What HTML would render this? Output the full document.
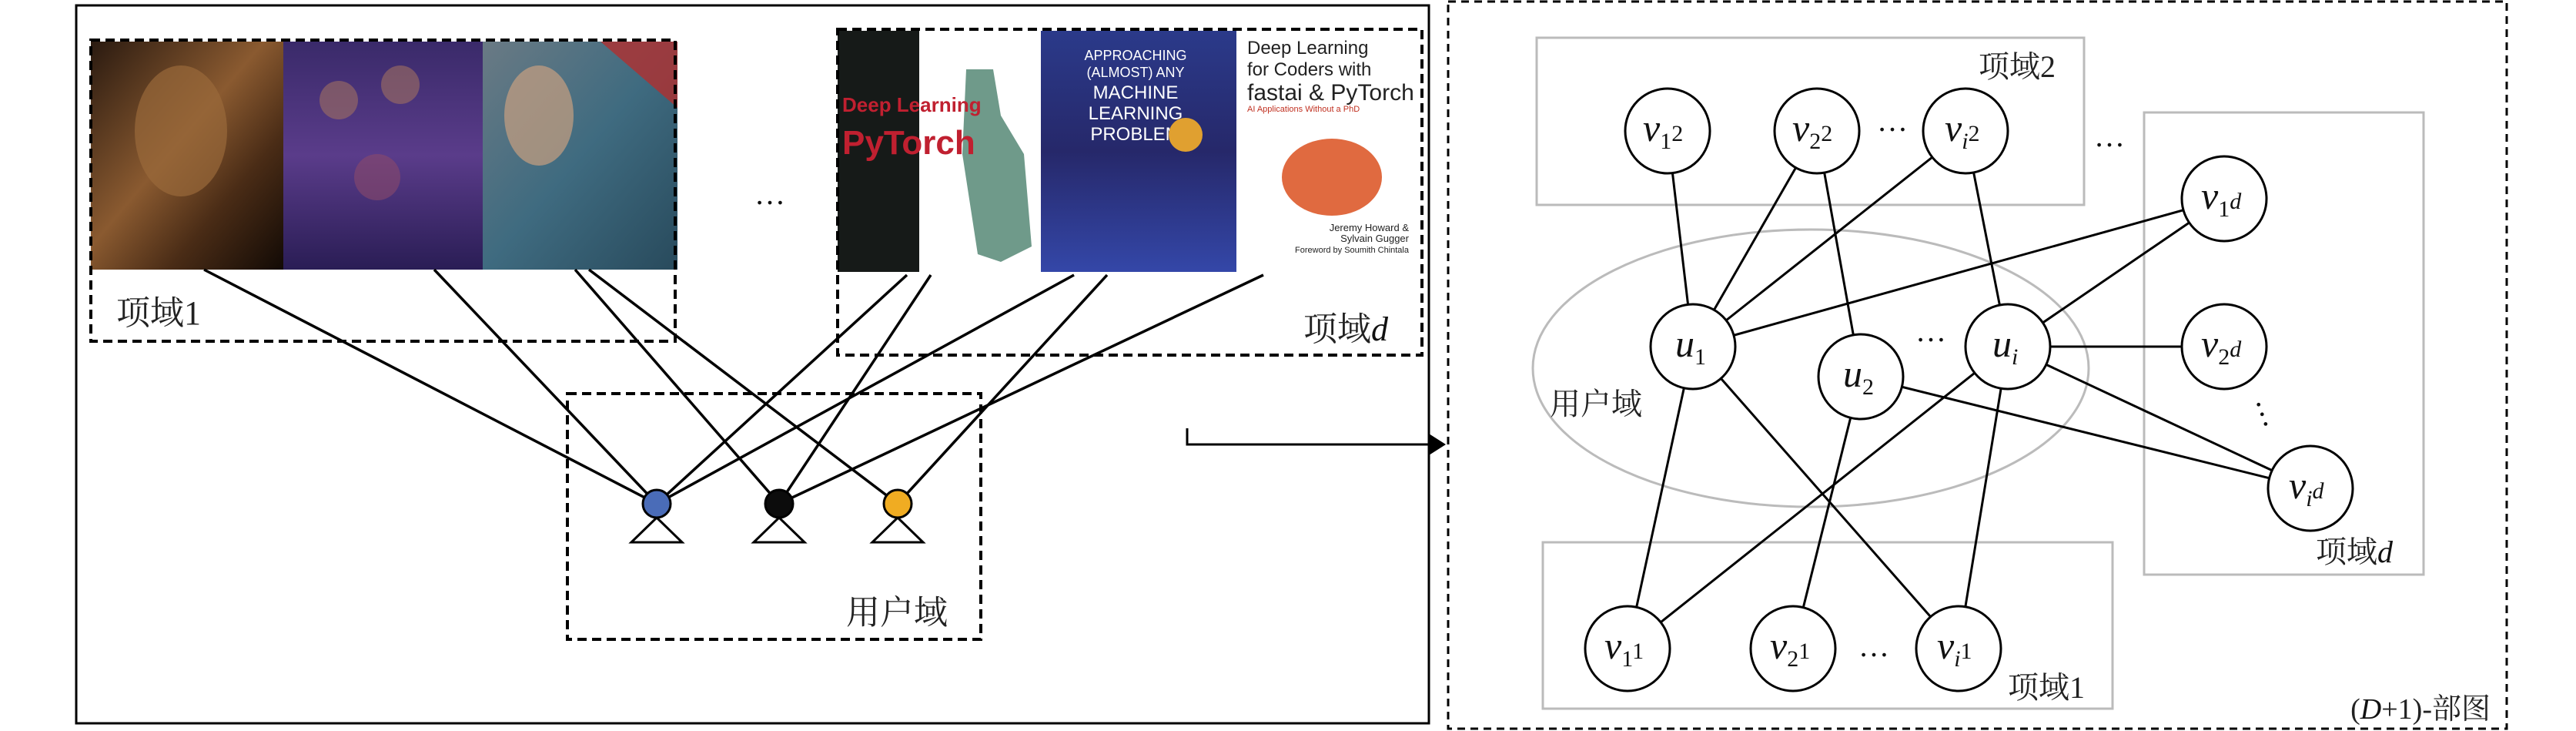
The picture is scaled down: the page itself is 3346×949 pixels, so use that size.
<!DOCTYPE html>
<html><head><meta charset="utf-8"><style>
html,body{margin:0;padding:0;background:#fff}
svg{display:block}
.cn{font-family:"Liberation Serif","Noto Serif CJK SC","Noto Sans CJK SC",serif;fill:#222}
.m{font-family:"Liberation Serif",serif;font-style:italic;fill:#111}
.s{font-family:"Liberation Serif",serif;font-style:normal;fill:#111}
</style></head><body>
<svg width="3346" height="949" viewBox="0 0 3346 949" xmlns="http://www.w3.org/2000/svg">
<defs>
<linearGradient id="p1" x1="0" y1="0" x2="1" y2="1"><stop offset="0" stop-color="#2a1a10"/><stop offset=".45" stop-color="#8a5a30"/><stop offset=".7" stop-color="#4a2c16"/><stop offset="1" stop-color="#120a05"/></linearGradient>
<linearGradient id="p2" x1="0" y1="0" x2="0" y2="1"><stop offset="0" stop-color="#3a2a6a"/><stop offset=".5" stop-color="#5a3c8a"/><stop offset="1" stop-color="#2a1d55"/></linearGradient>
<linearGradient id="p3" x1="0" y1="0" x2="1" y2="1"><stop offset="0" stop-color="#6a7a84"/><stop offset=".5" stop-color="#3f6b80"/><stop offset="1" stop-color="#284a5c"/></linearGradient>
<linearGradient id="b2" x1="0" y1="0" x2="0" y2="1"><stop offset="0" stop-color="#2b3a8a"/><stop offset=".5" stop-color="#26286a"/><stop offset="1" stop-color="#3447a8"/></linearGradient>
</defs>

<rect x="99" y="7" width="1757" height="932" fill="none" stroke="#000" stroke-width="3"/>

<rect x="118" y="54" width="250" height="296" fill="url(#p1)"/>
<ellipse cx="235" cy="170" rx="60" ry="85" fill="#9a6a3a" opacity=".7"/>
<rect x="368" y="54" width="259" height="296" fill="url(#p2)"/>
<circle cx="440" cy="130" r="25" fill="#a07060" opacity=".6"/><circle cx="520" cy="110" r="25" fill="#a07060" opacity=".6"/><circle cx="490" cy="230" r="30" fill="#8a4a6a" opacity=".6"/>
<rect x="627" y="54" width="253" height="296" fill="url(#p3)"/>
<polygon points="780,54 880,54 880,140" fill="#b03030" opacity=".8"/>
<ellipse cx="700" cy="150" rx="45" ry="65" fill="#c8a080" opacity=".7"/>

<rect x="1088" y="40" width="106" height="313" fill="#161a18"/>
<rect x="1194" y="40" width="158" height="313" fill="#fff"/>
<path d="M1255,90 L1290,90 L1300,150 L1330,200 L1340,320 L1300,340 L1270,330 L1250,200 Z" fill="#6f9a8a"/>
<text x="1094" y="145" font-family="Liberation Sans,sans-serif" font-size="26" fill="#c02030" font-weight="bold">Deep Learning</text>
<text x="1094" y="200" font-family="Liberation Sans,sans-serif" font-size="44" fill="#c02030" font-weight="bold">PyTorch</text>
<rect x="1352" y="40" width="254" height="313" fill="url(#b2)"/>
<g font-family="Liberation Sans,sans-serif" fill="#fff" text-anchor="middle">
<text x="1475" y="78" font-size="18">APPROACHING</text>
<text x="1475" y="100" font-size="18">(ALMOST) ANY</text>
<text x="1475" y="128" font-size="24">MACHINE</text>
<text x="1475" y="155" font-size="24">LEARNING</text>
<text x="1475" y="182" font-size="24">PROBLEM</text>
</g>
<circle cx="1540" cy="175" r="22" fill="#e0a030"/>
<rect x="1606" y="40" width="242" height="313" fill="#fff"/>
<g font-family="Liberation Sans,sans-serif" fill="#222">
<text x="1620" y="70" font-size="24">Deep Learning</text>
<text x="1620" y="98" font-size="24">for Coders with</text>
<text x="1620" y="130" font-size="30">fastai &amp; PyTorch</text>
<text x="1620" y="145" font-size="11" fill="#c03020">AI Applications Without a PhD</text>
<text x="1830" y="300" font-size="13" text-anchor="end">Jeremy Howard &amp;</text>
<text x="1830" y="314" font-size="13" text-anchor="end">Sylvain Gugger</text>
<text x="1830" y="328" font-size="11" text-anchor="end">Foreword by Soumith Chintala</text>
</g>
<ellipse cx="1730" cy="230" rx="65" ry="50" fill="#e06a40"/>

<g fill="none" stroke="#000" stroke-width="4" stroke-dasharray="12,7">
<rect x="118" y="52" width="759" height="391"/>
<rect x="1088" y="38" width="759" height="423"/>
<rect x="737" y="511" width="537" height="319"/>
</g>
<text class="s" x="980" y="265" font-size="40">…</text>
<text class="cn" x="151" y="421" font-size="44">项域1</text>
<text class="cn" x="1693" y="442" font-size="44">项域<tspan class="m">d</tspan></text>
<text class="cn" x="1099" y="810" font-size="44">用户域</text>

<g stroke="#000" stroke-width="3.5">
<line x1="265" y1="350" x2="853" y2="654"/>
<line x1="564" y1="350" x2="853" y2="654"/>
<line x1="747" y1="350" x2="1012" y2="654"/>
<line x1="765" y1="350" x2="1166" y2="654"/>
<line x1="1178" y1="357" x2="853" y2="654"/>
<line x1="1209" y1="357" x2="1012" y2="654"/>
<line x1="1395" y1="357" x2="853" y2="654"/>
<line x1="1438" y1="357" x2="1166" y2="654"/>
<line x1="1641" y1="357" x2="1012" y2="654"/>
</g>
<g stroke="#000" stroke-width="3" fill="#fff">
<polygon points="853,672 820,704 886,704"/>
<polygon points="1012,672 979,704 1045,704"/>
<polygon points="1166,672 1133,704 1199,704"/>
</g>
<circle cx="853" cy="654" r="18" fill="#4a6cb8" stroke="#000" stroke-width="3"/>
<circle cx="1012" cy="654" r="18" fill="#0c0c0c" stroke="#000" stroke-width="3"/>
<circle cx="1166" cy="654" r="18" fill="#f0ac22" stroke="#000" stroke-width="3"/>

<polyline points="1542,556 1542,577 1856,577" fill="none" stroke="#000" stroke-width="3"/>
<polygon points="1856,563 1878,577 1856,591" fill="#000"/>

<rect x="1881" y="2" width="1375" height="944" fill="none" stroke="#000" stroke-width="3" stroke-dasharray="10,7"/>
<g fill="none" stroke="#bbb" stroke-width="3">
<rect x="1996" y="49" width="711" height="217"/>
<rect x="2785" y="146" width="363" height="600"/>
<rect x="2004" y="704" width="740" height="216"/>
<ellipse cx="2352" cy="478" rx="361" ry="180"/>
</g>
<text class="cn" x="2570" y="100" font-size="40">项域2</text>
<text class="cn" x="3008" y="730" font-size="40">项域<tspan class="m">d</tspan></text>
<text class="cn" x="2608" y="906" font-size="40">项域1</text>
<text class="cn" x="2013" y="538" font-size="40">用户域</text>
<text class="cn" x="3235" y="933" font-size="38" text-anchor="end">(<tspan class="m">D</tspan>+1)-部图</text>

<g stroke="#000" stroke-width="3">
<line x1="2166" y1="170" x2="2199" y2="450"/>
<line x1="2360" y1="170" x2="2199" y2="450"/>
<line x1="2553" y1="170" x2="2199" y2="450"/>
<line x1="2360" y1="170" x2="2417" y2="489"/>
<line x1="2553" y1="170" x2="2608" y2="450"/>
<line x1="2199" y1="450" x2="2889" y2="258"/>
<line x1="2608" y1="450" x2="2889" y2="258"/>
<line x1="2608" y1="450" x2="2889" y2="450"/>
<line x1="2608" y1="450" x2="3001" y2="634"/>
<line x1="2417" y1="489" x2="3001" y2="634"/>
<line x1="2199" y1="450" x2="2114" y2="842"/>
<line x1="2199" y1="450" x2="2544" y2="842"/>
<line x1="2417" y1="489" x2="2329" y2="842"/>
<line x1="2608" y1="450" x2="2114" y2="842"/>
<line x1="2608" y1="450" x2="2544" y2="842"/>
</g>
<g fill="#fff" stroke="#000" stroke-width="3">
<circle cx="2166" cy="170" r="55"/><circle cx="2360" cy="170" r="55"/><circle cx="2553" cy="170" r="55"/>
<circle cx="2889" cy="258" r="55"/><circle cx="2889" cy="450" r="55"/><circle cx="3001" cy="634" r="55"/>
<circle cx="2199" cy="450" r="55"/><circle cx="2417" cy="489" r="55"/><circle cx="2608" cy="450" r="55"/>
<circle cx="2114" cy="842" r="55"/><circle cx="2329" cy="842" r="55"/><circle cx="2544" cy="842" r="55"/>
</g>
<g font-size="50">
<text class="m" x="2134" y="183">v<tspan class="s" font-size="30" dy="10">1</tspan><tspan class="s" font-size="30" dy="-10">2</tspan></text>
<text class="m" x="2328" y="183">v<tspan class="s" font-size="30" dy="10">2</tspan><tspan class="s" font-size="30" dy="-10">2</tspan></text>
<text class="m" x="2526" y="183">v<tspan font-size="30" dy="10">i</tspan><tspan class="s" font-size="30" dy="-10">2</tspan></text>
<text class="m" x="2859" y="271">v<tspan class="s" font-size="30" dy="10">1</tspan><tspan font-size="30" dy="-10">d</tspan></text>
<text class="m" x="2859" y="463">v<tspan class="s" font-size="30" dy="10">2</tspan><tspan font-size="30" dy="-10">d</tspan></text>
<text class="m" x="2973" y="647">v<tspan font-size="30" dy="10">i</tspan><tspan font-size="30" dy="-10">d</tspan></text>
<text class="m" x="2176" y="463">u<tspan class="s" font-size="30" dy="10">1</tspan></text>
<text class="m" x="2394" y="502">u<tspan class="s" font-size="30" dy="10">2</tspan></text>
<text class="m" x="2588" y="463">u<tspan font-size="30" dy="10">i</tspan></text>
<text class="m" x="2084" y="855">v<tspan class="s" font-size="30" dy="10">1</tspan><tspan class="s" font-size="30" dy="-10">1</tspan></text>
<text class="m" x="2299" y="855">v<tspan class="s" font-size="30" dy="10">2</tspan><tspan class="s" font-size="30" dy="-10">1</tspan></text>
<text class="m" x="2516" y="855">v<tspan font-size="30" dy="10">i</tspan><tspan class="s" font-size="30" dy="-10">1</tspan></text>
</g>
<g class="s" font-size="40">
<text x="2438" y="170">…</text>
<text x="2720" y="190">…</text>
<text x="2488" y="443">…</text>
<text x="2414" y="852">…</text>
<text x="2946" y="545" transform="rotate(70 2946 535)" text-anchor="middle">…</text>
</g>
</svg>
</body></html>
